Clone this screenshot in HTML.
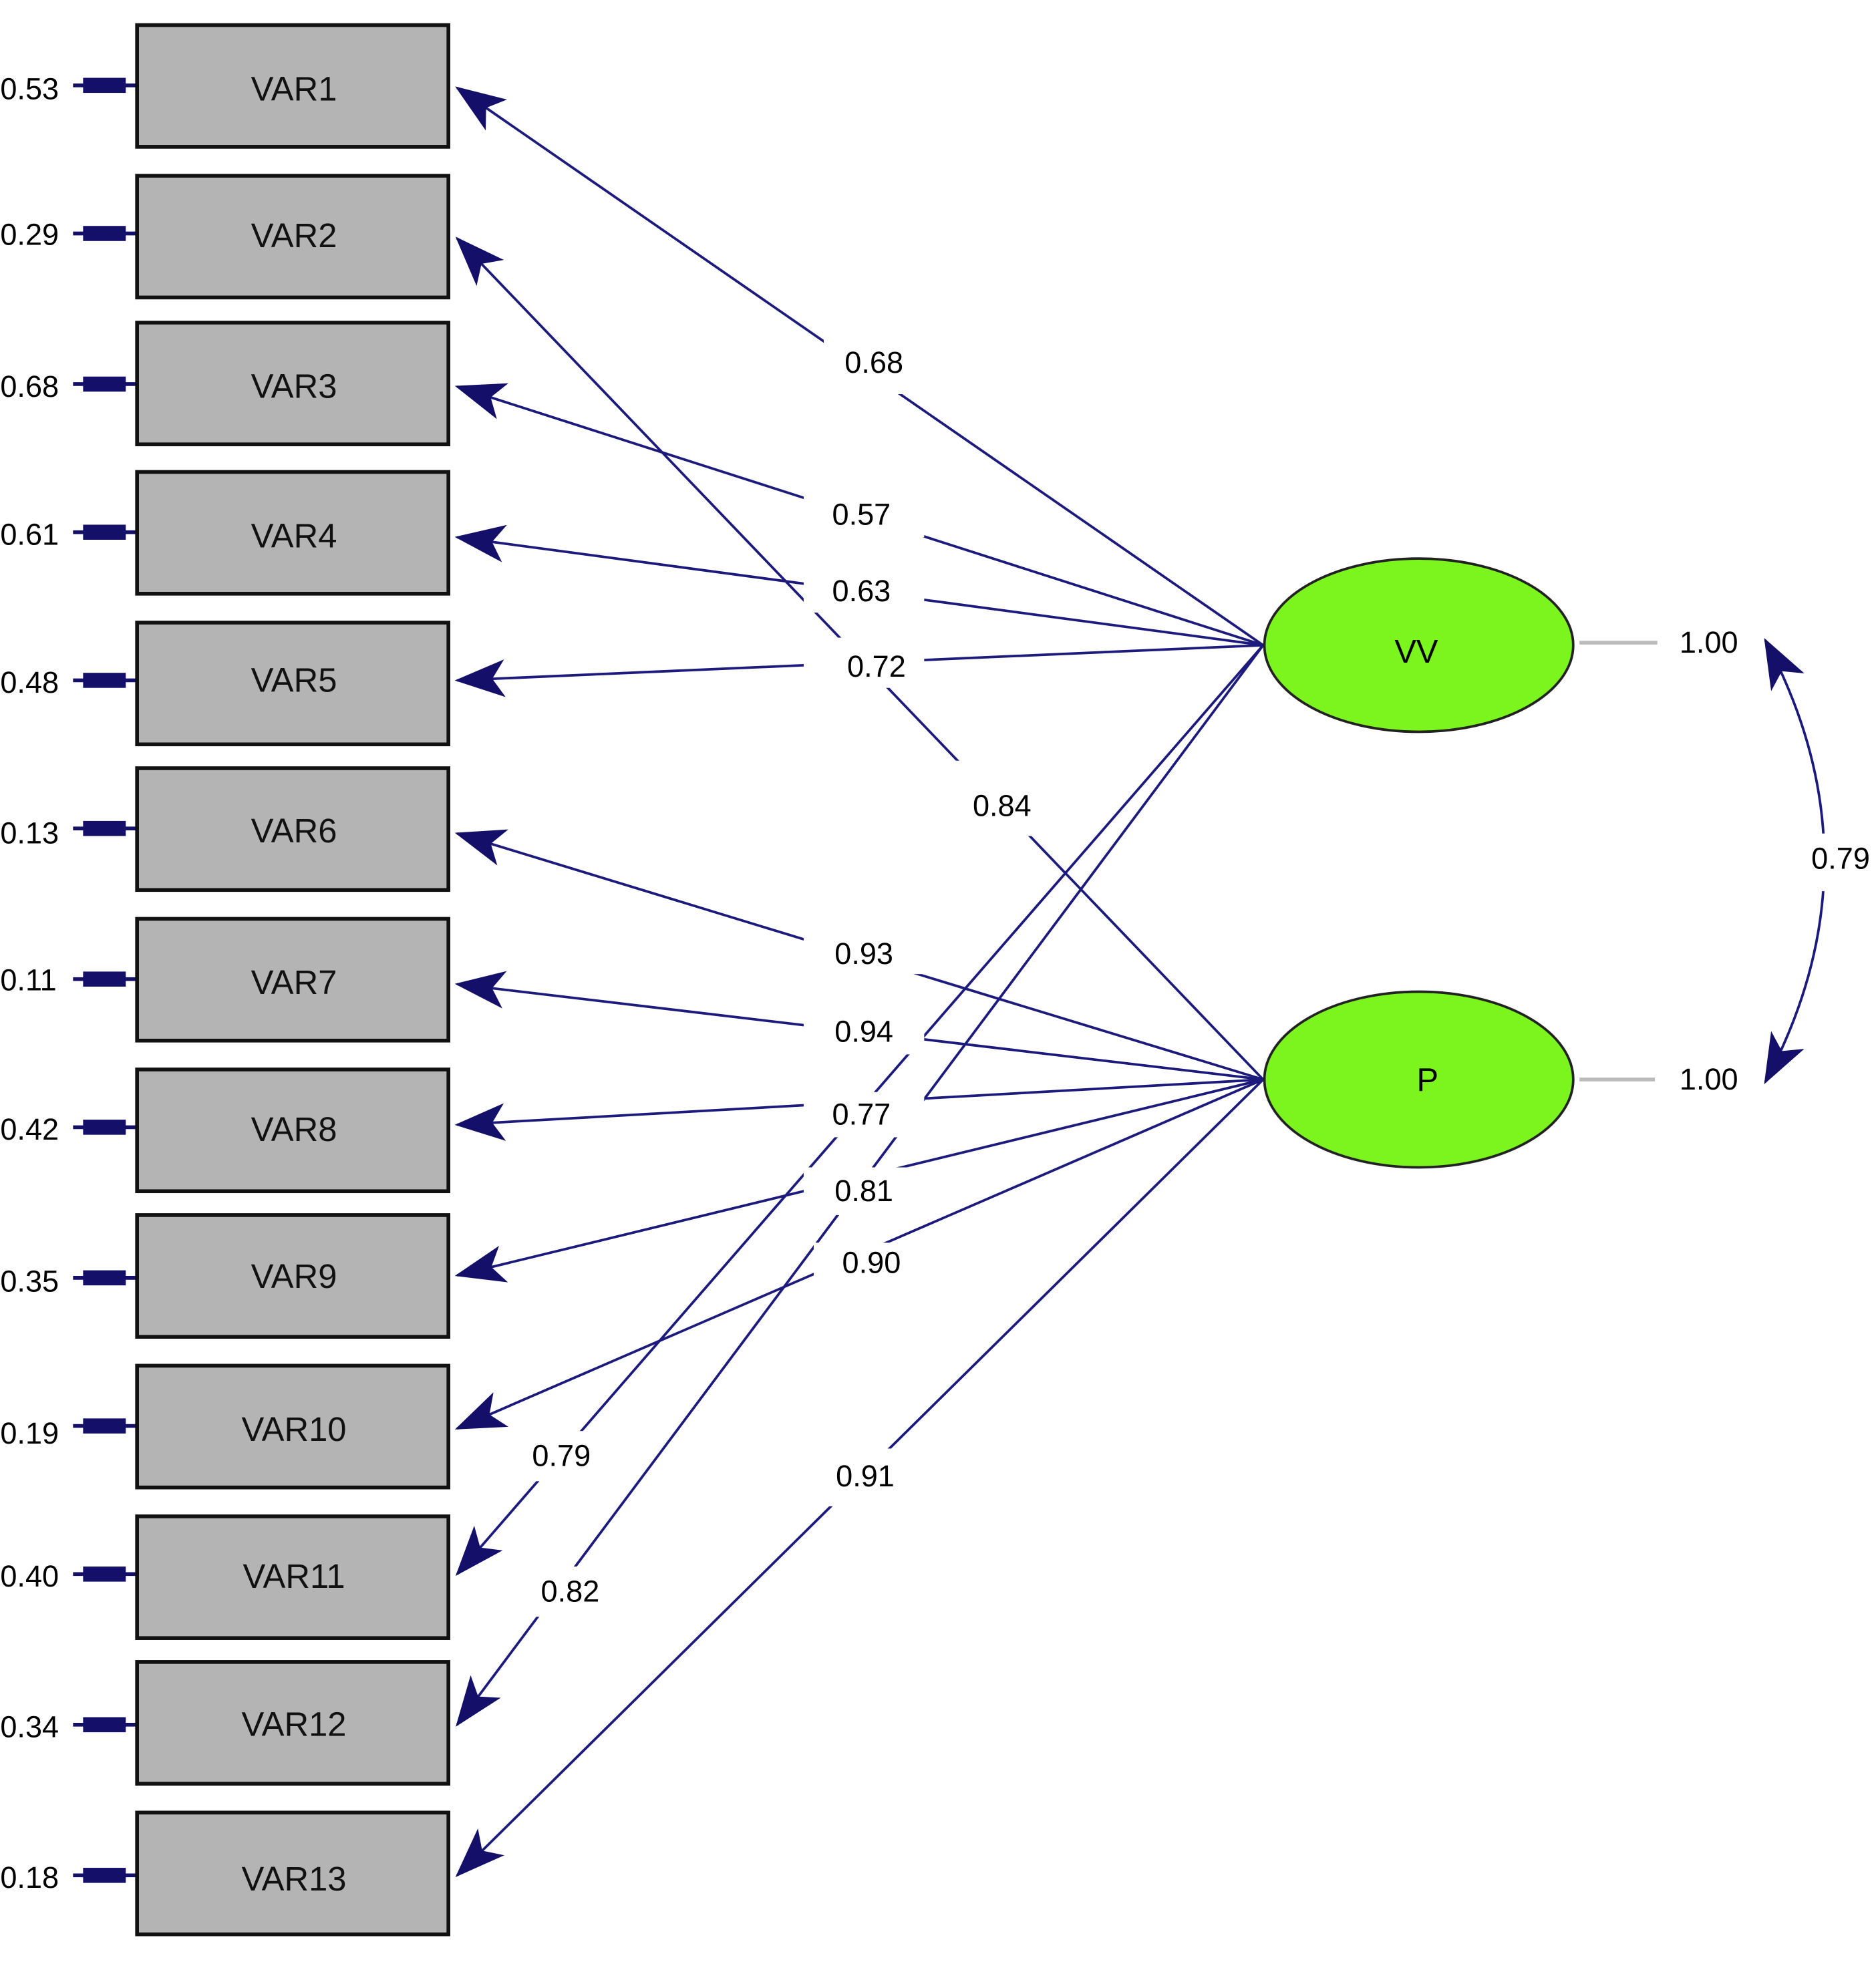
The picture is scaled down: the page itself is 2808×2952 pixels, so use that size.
<!DOCTYPE html>
<html><head><meta charset="utf-8"><style>html,body{margin:0;padding:0;background:#fff}svg{display:block}</style></head>
<body>
<svg width="2808" height="2952" viewBox="0 0 1494 1571" xmlns="http://www.w3.org/2000/svg" font-family="Liberation Sans, Arial, sans-serif">
<defs>
<marker id="ah" markerUnits="userSpaceOnUse" markerWidth="40" markerHeight="30" refX="38" refY="15" orient="auto-start-reverse">
<path d="M40,15 L0,0 L10,15 L0,30 Z" fill="#14106a"/>
</marker>
</defs>
<rect width="1494" height="1571" fill="#fff"/>
<g stroke="#1c1a7c" stroke-width="2" fill="none">
<line x1="1006" y1="514" x2="364" y2="70" marker-end="url(#ah)"/>
<line x1="1006" y1="514" x2="364" y2="308" marker-end="url(#ah)"/>
<line x1="1006" y1="514" x2="364" y2="428" marker-end="url(#ah)"/>
<line x1="1006" y1="514" x2="364" y2="542" marker-end="url(#ah)"/>
<line x1="1006" y1="514" x2="364" y2="1254" marker-end="url(#ah)"/>
<line x1="1006" y1="514" x2="364" y2="1374" marker-end="url(#ah)"/>
<line x1="1006" y1="860" x2="364" y2="190" marker-end="url(#ah)"/>
<line x1="1006" y1="860" x2="364" y2="664" marker-end="url(#ah)"/>
<line x1="1006" y1="860" x2="364" y2="784" marker-end="url(#ah)"/>
<line x1="1006" y1="860" x2="364" y2="896" marker-end="url(#ah)"/>
<line x1="1006" y1="860" x2="364" y2="1016" marker-end="url(#ah)"/>
<line x1="1006" y1="860" x2="364" y2="1138" marker-end="url(#ah)"/>
<line x1="1006" y1="860" x2="364" y2="1494" marker-end="url(#ah)"/>
<path d="M1406,510 Q1500,686 1406,862" marker-start="url(#ah)" marker-end="url(#ah)"/>
</g>
<g stroke="#14106a" stroke-width="3">
<line x1="58" y1="68" x2="108" y2="68"/><line x1="58" y1="186" x2="108" y2="186"/><line x1="58" y1="306" x2="108" y2="306"/><line x1="58" y1="424" x2="108" y2="424"/><line x1="58" y1="542" x2="108" y2="542"/><line x1="58" y1="660" x2="108" y2="660"/><line x1="58" y1="780" x2="108" y2="780"/><line x1="58" y1="898" x2="108" y2="898"/><line x1="58" y1="1018" x2="108" y2="1018"/><line x1="58" y1="1136" x2="108" y2="1136"/><line x1="58" y1="1254" x2="108" y2="1254"/><line x1="58" y1="1374" x2="108" y2="1374"/><line x1="58" y1="1494" x2="108" y2="1494"/>
</g>
<g fill="#14106a">
<rect x="66" y="62" width="34" height="12"/><rect x="66" y="180" width="34" height="12"/><rect x="66" y="300" width="34" height="12"/><rect x="66" y="418" width="34" height="12"/><rect x="66" y="536" width="34" height="12"/><rect x="66" y="654" width="34" height="12"/><rect x="66" y="774" width="34" height="12"/><rect x="66" y="892" width="34" height="12"/><rect x="66" y="1012" width="34" height="12"/><rect x="66" y="1130" width="34" height="12"/><rect x="66" y="1248" width="34" height="12"/><rect x="66" y="1368" width="34" height="12"/><rect x="66" y="1488" width="34" height="12"/>
</g>
<g font-size="24" fill="#000">
<text x="0" y="79">0.53</text><text x="0" y="195">0.29</text><text x="0" y="316">0.68</text><text x="0" y="434">0.61</text><text x="0" y="552">0.48</text><text x="0" y="672">0.13</text><text x="0" y="789">0.11</text><text x="0" y="908">0.42</text><text x="0" y="1029">0.35</text><text x="0" y="1150">0.19</text><text x="0" y="1264">0.40</text><text x="0" y="1384">0.34</text><text x="0" y="1504">0.18</text>
</g>
<g fill="#b4b4b4" stroke="#111" stroke-width="3">
<rect x="109" y="20" width="248" height="97"/><rect x="109" y="140" width="248" height="97"/><rect x="109" y="257" width="248" height="97"/><rect x="109" y="376" width="248" height="97"/><rect x="109" y="496" width="248" height="97"/><rect x="109" y="612" width="248" height="97"/><rect x="109" y="732" width="248" height="97"/><rect x="109" y="852" width="248" height="97"/><rect x="109" y="968" width="248" height="97"/><rect x="109" y="1088" width="248" height="97"/><rect x="109" y="1208" width="248" height="97"/><rect x="109" y="1324" width="248" height="97"/><rect x="109" y="1444" width="248" height="97"/>
</g>
<g font-size="27" fill="#111" text-anchor="middle">
<text x="234" y="80">VAR1</text><text x="234" y="197">VAR2</text><text x="234" y="317">VAR3</text><text x="234" y="436">VAR4</text><text x="234" y="551">VAR5</text><text x="234" y="671">VAR6</text><text x="234" y="792">VAR7</text><text x="234" y="909">VAR8</text><text x="234" y="1026">VAR9</text><text x="234" y="1148">VAR10</text><text x="234" y="1265">VAR11</text><text x="234" y="1383">VAR12</text><text x="234" y="1506">VAR13</text>
</g>
<ellipse cx="1130" cy="514" rx="123" ry="69" fill="#7cf41e" stroke="#222" stroke-width="2"/>
<ellipse cx="1130" cy="860" rx="123" ry="70" fill="#7cf41e" stroke="#222" stroke-width="2"/>
<text x="1128" y="528" font-size="26" text-anchor="middle">VV</text>
<text x="1137" y="869" font-size="26" text-anchor="middle">P</text>
<g stroke="#bbb" stroke-width="3"><line x1="1258" y1="512" x2="1320" y2="512"/><line x1="1258" y1="860" x2="1318" y2="860"/></g>
<g fill="#fff">
<rect x="656" y="268" width="80" height="46"/><rect x="640" y="390" width="96" height="38"/><rect x="640" y="450" width="96" height="38"/><rect x="640" y="508" width="96" height="40"/>
<rect x="758" y="606" width="80" height="60"/><rect x="640" y="746" width="96" height="30"/><rect x="640" y="806" width="96" height="34"/><rect x="640" y="870" width="96" height="36"/><rect x="640" y="930" width="96" height="38"/><rect x="648" y="990" width="92" height="32"/>
<rect x="415" y="1140" width="66" height="40"/><rect x="420" y="1248" width="68" height="40"/><rect x="660" y="1154" width="60" height="46"/><rect x="1426" y="664" width="70" height="46"/>
</g>
<g font-size="24" fill="#000" text-anchor="middle">
<text x="696" y="297">0.68</text><text x="686" y="418">0.57</text><text x="686" y="479">0.63</text><text x="698" y="539">0.72</text><text x="798" y="650">0.84</text><text x="688" y="768">0.93</text><text x="688" y="830">0.94</text><text x="686" y="896">0.77</text><text x="688" y="957">0.81</text><text x="694" y="1014">0.90</text><text x="447" y="1168">0.79</text><text x="454" y="1276">0.82</text><text x="689" y="1184">0.91</text><text x="1361" y="520">1.00</text><text x="1361" y="868">1.00</text><text x="1466" y="692">0.79</text>
</g>
</svg>
</body></html>
